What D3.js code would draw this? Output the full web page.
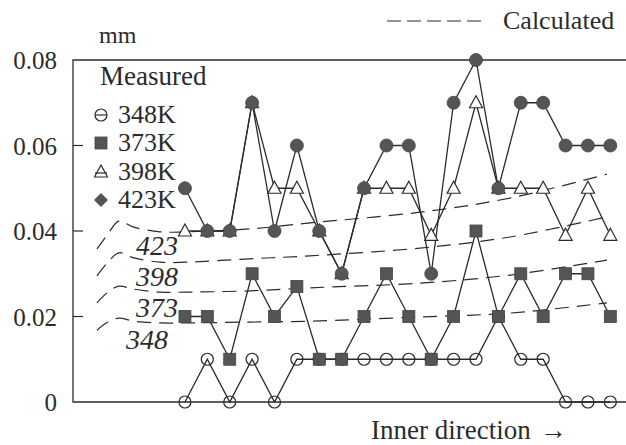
<!DOCTYPE html>
<html>
<head>
<meta charset="utf-8">
<script src="https://cdn.jsdelivr.net/npm/d3@7"></script>
<style>
  body { margin: 0; background: #fff; }
</style>
</head>
<body>
<div id="chart"></div>
<script>
// Measuring points along the inner direction
var positions = [0, 1, 2, 3, 4, 5, 6, 7, 8, 9, 10, 11, 12, 13, 14, 15, 16, 17, 18, 19];

// Measured values, mm
var measured348 = [0, 0.01, 0, 0.01, 0, 0.01, 0.01, 0.01, 0.01, 0.01, 0.01, 0.01, 0.01, 0.01, 0.02, 0.01, 0.01, 0, 0, 0];
var measured373 = [0.02, 0.02, 0.01, 0.03, 0.02, 0.027, 0.01, 0.01, 0.02, 0.03, 0.02, 0.01, 0.02, 0.04, 0.02, 0.03, 0.02, 0.03, 0.03, 0.02];
var measured398 = [0.04, 0.04, 0.04, 0.07, 0.05, 0.05, 0.04, 0.03, 0.05, 0.05, 0.05, 0.039, 0.05, 0.07, 0.05, 0.05, 0.05, 0.039, 0.05, 0.039];
var measured423 = [0.05, 0.04, 0.04, 0.07, 0.04, 0.06, 0.04, 0.03, 0.05, 0.06, 0.06, 0.03, 0.07, 0.08, 0.05, 0.07, 0.07, 0.06, 0.06, 0.06];

// Calculated curves (same x for all four)
var calcX = [-3.93, -3.44, -2.95, -2.28, -1.11, 0, 2.91, 5.59, 10.5, 14.52, 18.85];
var calc348 = [0.0168, 0.0187, 0.0196, 0.0189, 0.0185, 0.0185, 0.0187, 0.0189, 0.0199, 0.0208, 0.0232];
var calc373 = [0.0232, 0.0257, 0.0271, 0.0264, 0.0257, 0.0257, 0.026, 0.0267, 0.0278, 0.0297, 0.0332];
var calc398 = [0.0295, 0.0327, 0.0349, 0.0337, 0.0327, 0.0327, 0.0335, 0.0342, 0.036, 0.0386, 0.0433];
var calc423 = [0.0358, 0.0393, 0.0423, 0.0409, 0.0398, 0.0398, 0.0405, 0.0419, 0.0444, 0.0477, 0.0533];

var seriesNames = ["348K", "373K", "398K", "423K"];
var calcLabels = ["348", "373", "398", "423"];
var yTicks = [0, 0.02, 0.04, 0.06, 0.08];
var yTickLabels = ["0", "0.02", "0.04", "0.06", "0.08"];

var width = 626, height = 445;
var ink = "#2b2b2b", grey = "#555";

var svg = d3.select("#chart").append("svg")
    .attr("width", width)
    .attr("height", height);

var x = d3.scaleLinear()
    .domain([-5, 19.7])
    .range([73, 626]);

var y = d3.scaleLinear()
    .domain([0, 0.08])
    .range([402, 60]);

function label(sel, size) {
  return sel.style("font-family", "Liberation Serif")
      .style("font-size", size + "px")
      .style("fill", ink);
}

// Frame: left, top and bottom lines (right side is cut off)
svg.append("path")
    .attr("d", "M" + width + "," + y(0.08) + "H" + x(-5) + "V" + y(0) + "H" + width)
    .style("fill", "none")
    .style("stroke", ink)
    .style("stroke-width", 1.3);

// Ticks point inward
svg.selectAll(".tick")
    .data(yTicks.slice(1, 4))
  .enter().append("line")
    .attr("class", "tick")
    .attr("x1", x(-5))
    .attr("x2", x(-5) + 10)
    .attr("y1", function(d) { return y(d); })
    .attr("y2", function(d) { return y(d); })
    .style("stroke", ink)
    .style("stroke-width", 1.2);

svg.selectAll(".ytext")
    .data(yTicks)
  .enter().append("text")
    .attr("class", "ytext")
    .attr("x", 57)
    .attr("y", function(d) { return y(d) + 9; })
    .attr("text-anchor", "end")
    .call(label, 25)
    .text(function(d, i) { return yTickLabels[i]; });

svg.append("text")
    .attr("x", 99)
    .attr("y", 43)
    .call(label, 24)
    .text("mm");

var xTitle = svg.append("text")
    .attr("x", 371)
    .attr("y", 439)
    .call(label, 27)
    .text("Inner direction");

xTitle.append("tspan")
    .attr("dx", 9)
    .text("\u2192");

// Calculated legend
svg.append("line")
    .attr("x1", 387)
    .attr("x2", 486)
    .attr("y1", 21)
    .attr("y2", 21)
    .style("stroke", ink)
    .style("stroke-width", 1.2)
    .style("stroke-dasharray", "14,6");

svg.append("text")
    .attr("x", 503)
    .attr("y", 29)
    .call(label, 26)
    .text("Calculated");

// Calculated curves
var calcLine = d3.line()
    .x(function(d) { return x(d[0]); })
    .y(function(d) { return y(d[1]); })
    .curve(d3.curveCatmullRom);

var calcSeries = [calc348, calc373, calc398, calc423].map(function(vals) {
  return vals.map(function(v, i) { return [calcX[i], v]; });
});

svg.selectAll(".calc")
    .data(calcSeries)
  .enter().append("path")
    .attr("class", "calc")
    .attr("d", calcLine)
    .style("fill", "none")
    .style("stroke", ink)
    .style("stroke-width", 1.2)
    .style("stroke-dasharray", "14,8");

var labelShift = [-8, 2, 2, 2];
svg.selectAll(".calcLabel")
    .data(calcSeries)
  .enter().append("text")
    .attr("class", "calcLabel")
    .attr("x", function(d, i) { return x(d[3][0]) + labelShift[i]; })
    .attr("y", function(d) { return y(d[3][1]) + 28; })
    .call(label, 28)
    .style("font-style", "italic")
    .text(function(d, i) { return calcLabels[i]; });

// Measured series
var measured = [measured348, measured373, measured398, measured423];

var line = d3.line()
    .x(function(d, i) { return x(positions[i]); })
    .y(function(d) { return y(d); });

svg.selectAll(".measured")
    .data(measured)
  .enter().append("path")
    .attr("class", "measured")
    .attr("d", line)
    .style("fill", "none")
    .style("stroke", ink)
    .style("stroke-width", 1.3);

// Marker drawing, one branch per series
function marker(g, k, legend) {
  if (k === 0) {
    g.append("circle").attr("r", 6)
        .style("fill", "none").style("stroke", ink).style("stroke-width", 1.2);
    if (legend) {
      g.append("line").attr("x1", -6).attr("x2", 6)
          .style("stroke", ink).style("stroke-width", 1.2);
    }
  } else if (k === 1) {
    g.append("rect").attr("x", -6).attr("y", -6).attr("width", 12).attr("height", 12)
        .style("fill", grey).style("stroke", "#444").style("stroke-width", 0.8);
  } else if (k === 2) {
    g.append("path").attr("d", "M0,-7L6.5,5L-6.5,5Z")
        .style("fill", "#fff").style("stroke", ink).style("stroke-width", 1.2);
    if (legend) {
      g.append("line").attr("x1", -6).attr("x2", 6).attr("y1", 1).attr("y2", 1)
          .style("stroke", ink).style("stroke-width", 1.2);
    }
  } else {
    if (legend) {
      g.append("path").attr("d", "M0,-7L7,0L0,7L-7,0Z").style("fill", grey);
    } else {
      g.append("circle").attr("r", 6.5)
          .style("fill", grey).style("stroke", "#444").style("stroke-width", 0.8);
    }
  }
}

// Draw order: open markers first, dark markers last
[0, 2, 1, 3].forEach(function(k) {
  svg.append("g")
      .attr("class", "markers")
    .selectAll("g")
      .data(measured[k])
    .enter().append("g")
      .attr("transform", function(d, i) {
        return "translate(" + x(positions[i]) + "," + y(d) + ")";
      })
      .each(function() { marker(d3.select(this), k, false); });
});

// Measured legend inside the plot
svg.append("text")
    .attr("x", 100)
    .attr("y", 85)
    .call(label, 27)
    .text("Measured");

var legendY = [115, 143, 172, 200];
var legend = svg.selectAll(".legend")
    .data(seriesNames)
  .enter().append("g")
    .attr("class", "legend")
    .attr("transform", function(d, i) { return "translate(101," + legendY[i] + ")"; });

legend.each(function(d, i) { marker(d3.select(this), i, true); });

legend.append("text")
    .attr("x", 17)
    .attr("y", 8)
    .call(label, 26)
    .text(function(d) { return d; });
</script>
</body>
</html>
